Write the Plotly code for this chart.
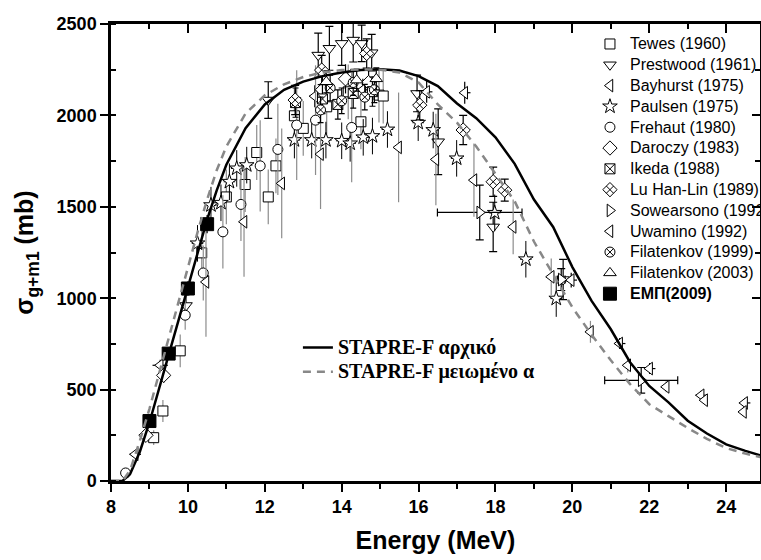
import plotly.graph_objects as go

# ---- STAPRE-F model curves ----
model_e = [8.0, 8.3, 8.5, 8.75, 9.0, 9.25, 9.5, 9.75, 10.0, 10.25, 10.5, 10.75, 11.0, 11.5,
           12.0, 12.5, 13.0, 13.5, 14.0, 14.5, 15.0, 15.5, 16.0, 16.5, 17.0, 17.5, 18.0,
           18.5, 19.0, 19.5, 20.0, 20.5, 21.0, 21.5, 22.0, 22.5, 23.0, 23.5, 24.0, 24.5, 24.9]
stapre_orig = [0, 0, 40, 160, 320, 500, 690, 875, 1060, 1250, 1430, 1590, 1730, 1930,
               2060, 2140, 2185, 2215, 2235, 2248, 2252, 2245, 2215, 2160, 2065, 1985, 1880,
               1735, 1540, 1390, 1170, 985, 830, 650, 520, 430, 330, 260, 200, 165, 140]
stapre_red = [0, 0, 60, 220, 395, 590, 790, 985, 1175, 1360, 1540, 1700, 1830, 2010,
              2110, 2170, 2210, 2235, 2248, 2252, 2250, 2235, 2180, 2060, 1960, 1830, 1680,
              1530, 1310, 1130, 950, 800, 660, 530, 420, 355, 290, 230, 180, 150, 130]

# ---- experimental data: energy (MeV), cross section (mb), uncertainties ----
tewes_e = [9.11, 9.35, 9.80, 10.36, 11.00, 11.49, 11.79, 12.09, 12.29, 12.77, 13.00, 13.61, 14.17, 14.50, 14.97, 15.08]
tewes_s = [237, 383, 712, 1248, 1554, 1622, 1797, 1554, 1724, 1998, 1929, 2047, 2129, 1965, 2111, 2106]
tewes_ds = [40, 60, 90, 120, 150, 150, 150, 150, 150, 150, 150, 150, 150, 150, 150, 150]

prestwood_e = [9.95, 12.09, 13.39, 13.68, 14.00, 14.30, 14.52, 14.78, 15.96, 16.51, 17.94, 19.76]
prestwood_s = [960, 2084, 2330, 2367, 2394, 2412, 2394, 2343, 2120, 1856, 1390, 1102]
prestwood_ds = [60, 100, 120, 120, 120, 120, 100, 100, 100, 180, 135, 110]

bayhurst_e = [8.63, 9.28, 13.30, 14.55, 16.21, 17.20, 19.97, 21.23, 22.01, 23.35, 24.48]
bayhurst_s = [146, 633, 2105, 2140, 2129, 2124, 1099, 752, 615, 469, 427]
bayhurst_ds = [20, 30, 60, 60, 60, 60, 40, 30, 30, 25, 25]
bayhurst_de = [0.15, 0.2, 0.15, 0.15, 0.15, 0.15, 0.15, 0.15, 0.15, 0.15, 0.15]

paulsen_e = [10.25, 10.60, 10.86, 11.08, 11.27, 11.53, 12.77, 13.22, 13.59, 14.00, 14.22, 14.56, 14.80, 15.19,
             15.99, 16.38, 16.99, 17.98, 18.79, 19.58]
paulsen_s = [1300, 1509, 1522, 1637, 1710, 1728, 1865, 1865, 1865, 1861, 1847, 1880, 1887, 1923,
             1960, 1920, 1765, 1467, 1213, 998]
paulsen_ds = [100] * 20
paulsen_de = [0.15] * 20

frehaut_e = [8.38, 9.93, 10.40, 10.91, 11.38, 11.88, 12.34, 12.83, 13.32, 14.26]
frehaut_s = [44, 907, 1138, 1363, 1513, 1724, 1814, 1947, 1974, 1934]
frehaut_ds = [20, 80, 150, 200, 200, 250, 250, 300, 300, 300]

daroczy_e = [8.91, 9.37, 13.50, 14.10, 14.70]
daroczy_s = [250, 578, 2140, 2200, 2180]
daroczy_ds = [30, 40, 80, 80, 80]

ikeda_e = [12.80, 13.50, 13.90, 14.30, 14.80]
ikeda_s = [2070, 2090, 2060, 2120, 2130]
ikeda_ds = [80, 80, 80, 80, 80]

luhanlin_e = [12.79, 13.48, 14.65, 16.03, 17.16, 17.94, 18.24]
luhanlin_s = [2084, 2248, 2339, 2056, 1920, 1637, 1591]
luhanlin_ds = [80, 80, 80, 80, 80, 80, 60]

sowearsono_e = [17.59, 19.71, 21.79]
sowearsono_s = [1469, 1102, 551]
sowearsono_ds = [150, 60, 70]
sowearsono_de = [1.1, 0.1, 0.95]

uwamino_e = [10.47, 11.46, 12.44, 13.45, 15.48, 16.45, 17.44, 18.46, 19.45, 20.47, 21.44, 22.44, 23.44, 24.45]
uwamino_s = [1089, 1418, 1628, 1788, 1825, 1759, 1646, 1390, 1117, 816, 633, 515, 442, 378]
uwamino_ds = [300, 300, 300, 300, 300, 250, 200, 150, 100, 60, 40, 30, 25, 25]

filat99_e = [13.45, 13.70, 14.00, 14.30, 14.60, 14.85]
filat99_s = [2030, 2150, 2080, 2180, 2100, 2140]
filat99_ds = [70, 70, 70, 70, 70, 70]

filat03_e = [13.60, 14.39, 14.90]
filat03_s = [2184, 2193, 2200]
filat03_ds = [60, 60, 60]

ntua_e = [9.0, 9.5, 10.0, 10.5]
ntua_s = [328, 697, 1053, 1405]
ntua_ds = [20, 30, 40, 50]

BLACK = "black"
GRAY = "#8c8c8c"

fig = go.Figure()


def add_data(name, e, s, ds, symbol, ecolor, cap=0, de=None, size=10, fill="white",
             ethick=1.2):
    ey = dict(type="data", array=ds, color=ecolor, thickness=ethick, width=cap)
    ex = None
    if de is not None:
        ex = dict(type="data", array=de, color=BLACK, thickness=ethick, width=cap)
    fig.add_trace(go.Scatter(
        x=e, y=s, mode="markers", name=name, legend="legend",
        marker=dict(symbol=symbol, size=size, color=fill,
                    line=dict(color=BLACK, width=1)),
        error_y=ey, error_x=ex))


LEG = "<span style='font-size:16px'>%s</span>"
LEG2 = "<span style='font-size:20px'>%s</span>"

add_data(LEG % "Tewes (1960)", tewes_e, tewes_s, tewes_ds, "square", GRAY)
add_data(LEG % "Prestwood (1961)", prestwood_e, prestwood_s, prestwood_ds, "triangle-down", BLACK,
         cap=4, size=11)
add_data(LEG % "Bayhurst (1975)", bayhurst_e, bayhurst_s, bayhurst_ds, "triangle-left", BLACK,
         de=bayhurst_de, size=11)
add_data(LEG % "Paulsen (1975)", paulsen_e, paulsen_s, paulsen_ds, "star", BLACK, de=paulsen_de,
         ethick=1, size=11)
add_data(LEG % "Frehaut (1980)", frehaut_e, frehaut_s, frehaut_ds, "circle", GRAY)
add_data(LEG % "Daroczy (1983)", daroczy_e, daroczy_s, daroczy_ds, "diamond", BLACK, size=11)
add_data(LEG % "Ikeda (1988)", ikeda_e, ikeda_s, ikeda_ds, "square-x", BLACK, cap=3)
add_data(LEG % "Lu Han-Lin (1989)", luhanlin_e, luhanlin_s, luhanlin_ds, "diamond-x", BLACK, cap=4,
         size=11)
add_data(LEG % "Sowearsono (1992)", sowearsono_e, sowearsono_s, sowearsono_ds, "triangle-right", BLACK,
         cap=4, de=sowearsono_de, size=11)
add_data(LEG % "Uwamino (1992)", uwamino_e, uwamino_s, uwamino_ds, "triangle-left", GRAY, size=11)
add_data(LEG % "Filatenkov (1999)", filat99_e, filat99_s, filat99_ds, "circle-x", BLACK, cap=3)
add_data(LEG % "Filatenkov (2003)", filat03_e, filat03_s, filat03_ds, "triangle-up", BLACK, cap=3,
         size=11)
add_data(LEG % "<b>ΕΜΠ(2009)</b>", ntua_e, ntua_s, ntua_ds, "square", BLACK, size=13, fill=BLACK)

# model curves, listed in a second legend
fig.add_trace(go.Scatter(x=model_e, y=stapre_orig, mode="lines", name=LEG2 % "STAPRE-F αρχικό",
                         legend="legend2", line=dict(color=BLACK, width=2.5)))
fig.add_trace(go.Scatter(x=model_e, y=stapre_red, mode="lines", name=LEG2 % "STAPRE-F μειωμένο α",
                         legend="legend2", line=dict(color="#888888", width=2.5, dash="8px,6px")))

# empty trace holding the mirrored frame axes (top / right)
fig.add_trace(go.Scatter(x=[], y=[], xaxis="x2", yaxis="y2", showlegend=False))

AX_FONT = dict(family="Liberation Sans, Arial", size=18, color=BLACK, weight="bold")
X_RANGE = [8, 24.88]
Y_RANGE = [0, 2500]

fig.update_layout(
    width=761, height=560,
    margin=dict(l=111, r=1, t=24, b=79, autoexpand=False),
    paper_bgcolor="white", plot_bgcolor="white",
    font=dict(family="Liberation Sans, Arial", color=BLACK),
    xaxis=dict(range=X_RANGE, dtick=2, tick0=8, ticks="outside", ticklen=8, tickwidth=2,
               tickcolor=BLACK, showline=True, linewidth=2.5, linecolor=BLACK,
               showgrid=False, zeroline=False, tickfont=AX_FONT,
               minor=dict(dtick=1, ticks="outside", ticklen=5, tickwidth=2, tickcolor=BLACK),
               title=dict(text="Energy (MeV)", standoff=16,
                          font=dict(family="Liberation Sans, Arial", size=25, weight="bold"))),
    yaxis=dict(range=Y_RANGE, dtick=500, ticks="outside", ticklen=8, tickwidth=2,
               tickcolor=BLACK, showline=True, linewidth=2.5, linecolor=BLACK,
               showgrid=False, zeroline=False, tickfont=AX_FONT,
               minor=dict(dtick=250, ticks="inside", ticklen=5, tickwidth=2, tickcolor=BLACK),
               title=dict(text="σ<sub>g+m1</sub> (mb)", standoff=16,
                          font=dict(family="Liberation Sans, Arial", size=25, weight="bold"))),
    xaxis2=dict(range=X_RANGE, overlaying="x", side="top", dtick=2, tick0=8, ticks="inside",
                ticklen=9, tickwidth=2, tickcolor=BLACK, showline=True, linewidth=2.5,
                linecolor=BLACK, showticklabels=False, showgrid=False, zeroline=False,
                minor=dict(dtick=1, ticks="inside", ticklen=5, tickwidth=2, tickcolor=BLACK)),
    yaxis2=dict(range=Y_RANGE, overlaying="y", side="right", dtick=500, ticks="inside",
                ticklen=8, tickwidth=2, tickcolor=BLACK, showline=True, linewidth=2.5,
                linecolor=BLACK, showticklabels=False, showgrid=False, zeroline=False,
                minor=dict(dtick=250, ticks="inside", ticklen=5, tickwidth=2, tickcolor=BLACK)),
    legend=dict(x=0.738, y=0.99, xanchor="left", yanchor="top", bgcolor="rgba(0,0,0,0)",
                font=dict(family="Liberation Sans, Arial", size=13.7, color=BLACK),
                itemwidth=30, tracegroupgap=0),
    legend2=dict(x=0.288, y=0.33, xanchor="left", yanchor="top", bgcolor="rgba(0,0,0,0)",
                 font=dict(family="Liberation Serif, Times New Roman", size=16.5, color=BLACK,
                           weight="bold"),
                 itemwidth=30),
)

fig.write_html("out.html")
